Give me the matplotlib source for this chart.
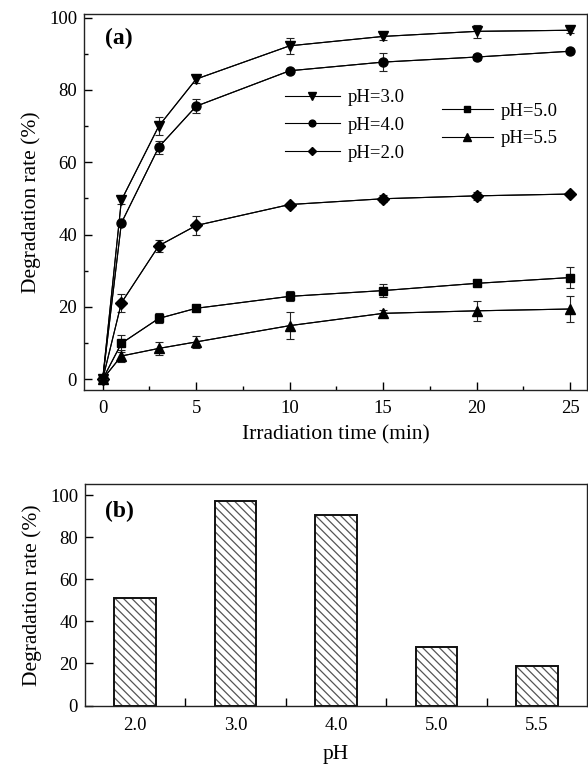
import matplotlib
matplotlib.use("Agg")
import matplotlib.pyplot as plt
from matplotlib.ticker import MultipleLocator

plt.rcParams['font.family'] = ['Liberation Serif', 'DejaVu Serif']
plt.rcParams['hatch.linewidth'] = 0.9

# ---- data panel (a) ----
time_min = [0, 1, 3, 5, 10, 15, 20, 25]
ph30 = [0, 49.5, 70.0, 83.0, 92.2, 94.8, 96.2, 96.5]
ph30_err = [0, 1.0, 2.5, 1.0, 2.2, 1.0, 1.7, 0.8]
ph40 = [0, 43.2, 64.2, 75.5, 85.3, 87.7, 89.1, 90.7]
ph40_err = [0, 0.5, 1.8, 2.0, 0.5, 2.5, 0.8, 0.5]
ph20 = [0, 21.1, 36.9, 42.5, 48.3, 49.9, 50.7, 51.2]
ph20_err = [0, 2.5, 1.7, 2.5, 0.5, 1.0, 1.2, 0.5]
ph50 = [0, 9.9, 16.8, 19.6, 22.9, 24.5, 26.5, 28.1]
ph50_err = [0, 2.3, 1.4, 0.5, 1.4, 1.7, 0.5, 2.9]
ph55 = [0, 6.4, 8.5, 10.3, 14.8, 18.2, 18.9, 19.4]
ph55_err = [0, 1.6, 1.8, 1.6, 3.7, 0.8, 2.7, 3.5]

# ---- data panel (b) ----
ph_labels = ['2.0', '3.0', '4.0', '5.0', '5.5']
final_rate = [51.2, 97.1, 90.8, 27.9, 18.9]

fig = plt.figure(figsize=(5.88, 7.67), dpi=100)
ax1 = fig.add_axes([84/588, 1-390/767, 503/588, 376/767])
ax2 = fig.add_axes([85/588, 1-705.5/767, 502/588, 221.5/767])

series = [
    (ph30, ph30_err, 'v', 7.5, 'pH=3.0'),
    (ph40, ph40_err, 'o', 6.5, 'pH=4.0'),
    (ph20, ph20_err, 'D', 6.0, 'pH=2.0'),
    (ph50, ph50_err, 's', 5.5, 'pH=5.0'),
    (ph55, ph55_err, '^', 7.0, 'pH=5.5'),
]
handles = []
for vals, errs, mk, ms, lab in series:
    ax1.errorbar(time_min, vals, yerr=errs, color='black', ecolor='#222222',
                 elinewidth=0.8, capsize=3, capthick=0.8, lw=0.8)
    h, = ax1.plot(time_min, vals, color='black', lw=0.8, marker=mk, ms=ms,
                  mfc='black', mec='black', label=lab)
    handles.append(h)

ax1.set_xlim(-1, 25.9)
ax1.set_ylim(-3, 101)
ax1.xaxis.set_major_locator(MultipleLocator(5))
ax1.xaxis.set_minor_locator(MultipleLocator(2.5))
ax1.yaxis.set_major_locator(MultipleLocator(20))
ax1.yaxis.set_minor_locator(MultipleLocator(10))
ax1.tick_params(which='both', direction='in', labelsize=13.5, top=False, right=False)
ax1.tick_params(which='major', length=6, width=1)
ax1.tick_params(which='minor', length=3, width=1)
ax1.tick_params(axis='x', pad=7)
ax1.tick_params(axis='y', pad=5)
ax1.set_xlabel('Irradiation time (min)', fontsize=15.5, labelpad=6)
ax1.set_ylabel('Degradation rate (%)', fontsize=15.5, labelpad=6)
ax1.text(0.042, 0.936, '(a)', transform=ax1.transAxes, fontsize=17,
         fontweight='bold', va='center', ha='left')

leg1 = ax1.legend(handles[:3], [h.get_label() for h in handles[:3]],
                  loc='upper left', bbox_to_anchor=(0.40, 0.80), frameon=False,
                  fontsize=13.5, handlelength=2.9, handletextpad=0.45,
                  labelspacing=0.56, borderpad=0, borderaxespad=0, markerscale=0.75)
ax1.add_artist(leg1)
ax1.legend(handles[3:], [h.get_label() for h in handles[3:]],
           loc='upper left', bbox_to_anchor=(0.712, 0.764), frameon=False,
           fontsize=13.5, handlelength=2.7, handletextpad=0.45,
           labelspacing=0.56, borderpad=0, borderaxespad=0, markerscale=0.75)

# panel (b)
xpos = list(range(len(ph_labels)))
ax2.bar(xpos, final_rate, width=0.415, color='white', edgecolor='#555555',
        hatch='\\\\\\\\', linewidth=0)
ax2.bar(xpos, final_rate, width=0.415, fill=False, edgecolor='#111111', linewidth=1.4)
ax2.set_xlim(-0.5, 4.5)
ax2.set_ylim(0, 105.3)
ax2.set_xticks(xpos)
ax2.set_xticklabels(ph_labels)
ax2.set_xticks([0.5, 1.5, 2.5, 3.5], minor=True)
ax2.tick_params(axis='x', which='major', length=0, pad=8)
ax2.tick_params(axis='x', which='minor', direction='in', length=6, width=1)
ax2.yaxis.set_major_locator(MultipleLocator(20))
ax2.tick_params(axis='y', direction='in', length=6, width=1, pad=5)
ax2.tick_params(which='both', labelsize=13.5, top=False, right=False)
ax2.set_xlabel('pH', fontsize=15.5, labelpad=8)
ax2.set_ylabel('Degradation rate (%)', fontsize=15.5, labelpad=6)
ax2.text(0.040, 0.874, '(b)', transform=ax2.transAxes, fontsize=17,
         fontweight='bold', va='center', ha='left')

for ax in (ax1, ax2):
    for s in ax.spines.values():
        s.set_linewidth(1.0)
        s.set_color('#222222')

fig.savefig('out.png', dpi=100)
